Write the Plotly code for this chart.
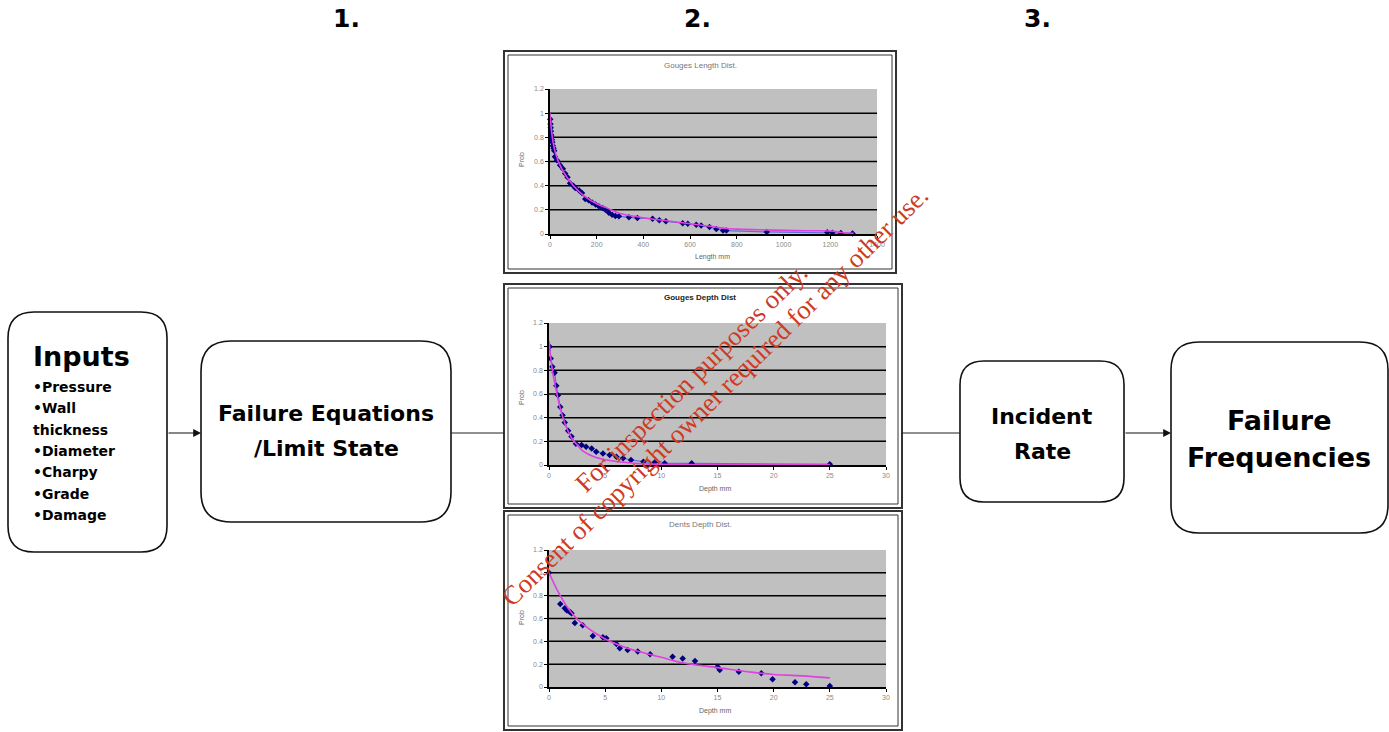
import plotly.graph_objects as go

W, H = 1389, 732

# ---------------- data ----------------
# Chart 1: Gouges Length Dist.
gl_len = [1, 2, 3, 4, 5, 6, 8, 10, 12, 15, 18, 21, 30, 43, 55, 65, 75, 86, 100, 108, 125, 137,
          151, 165, 180, 195, 209, 225, 237, 252, 266, 280, 295, 338, 374, 439, 468, 496, 568,
          590, 626, 647, 683, 712, 741, 755, 928, 1187, 1209, 1245, 1295]
gl_prob = [0.95, 0.91, 0.88, 0.85, 0.82, 0.80, 0.78, 0.76, 0.73, 0.71, 0.69, 0.64, 0.61, 0.57,
           0.54, 0.50, 0.47, 0.42, 0.40, 0.38, 0.36, 0.34, 0.29, 0.28, 0.26, 0.245, 0.23, 0.215,
           0.20, 0.175, 0.16, 0.15, 0.146, 0.138, 0.132, 0.127, 0.113, 0.105, 0.09, 0.085, 0.077,
           0.07, 0.058, 0.041, 0.03, 0.028, 0.017, 0.014, 0.011, 0.008, 0.005]
gl_fit_len = [0, 10, 25, 50, 100, 150, 200, 250, 300, 400, 500, 600, 700, 750, 800, 900, 1000,
              1100, 1200, 1250, 1300]
gl_fit_prob = [1.0, 0.80, 0.66, 0.54, 0.40, 0.31, 0.25, 0.21, 0.17, 0.135, 0.11, 0.085, 0.06,
               0.045, 0.04, 0.035, 0.03, 0.027, 0.025, 0.012, 0.005]

# Chart 2: Gouges Depth Dist
gd_depth = [0.06, 0.15, 0.3, 0.5, 0.65, 0.8, 1.0, 1.2, 1.4, 1.7, 2.0, 2.4, 2.9, 3.3, 3.8, 4.2,
            4.8, 5.4, 6.0, 6.6, 7.3, 8.4, 9.4, 10.3, 12.7, 25.0]
gd_prob = [1.0, 0.90, 0.83, 0.78, 0.67, 0.59, 0.49, 0.42, 0.36, 0.29, 0.24, 0.18, 0.17, 0.154,
           0.14, 0.112, 0.098, 0.084, 0.07, 0.056, 0.042, 0.028, 0.022, 0.014, 0.014, 0.006]
gd_fit_depth = [0, 0.3, 0.6, 1.0, 1.5, 2.0, 2.5, 3.0, 4.0, 5.0, 6.0, 7.0, 8.0, 10.0, 25.0]
gd_fit_prob = [1.05, 0.80, 0.65, 0.48, 0.33, 0.23, 0.17, 0.12, 0.07, 0.045, 0.03, 0.02, 0.012,
               0.005, 0.003]

# Chart 3: Dents Depth Dist.
dd_depth = [0.0, 1.0, 1.4, 1.6, 1.85, 2.0, 2.3, 3.0, 3.9, 4.8, 5.1, 6.0, 6.3, 7.0, 7.9, 9.0,
            11.0, 11.9, 13.0, 15.0, 15.2, 16.9, 18.9, 19.9, 21.9, 22.9, 25.0]
dd_prob = [1.0, 0.727, 0.69, 0.67, 0.66, 0.645, 0.56, 0.54, 0.447, 0.435, 0.426, 0.377, 0.34,
           0.324, 0.31, 0.286, 0.266, 0.25, 0.228, 0.178, 0.149, 0.134, 0.12, 0.067, 0.041,
           0.023, 0.009]
dd_fit_depth = [0, 1, 2, 3, 5, 7, 10, 12, 15, 18, 20, 22, 25]
dd_fit_prob = [1.0, 0.80, 0.65, 0.55, 0.42, 0.34, 0.26, 0.21, 0.17, 0.13, 0.11, 0.10, 0.08]

prob_ticks = [0, 0.2, 0.4, 0.6, 0.8, 1, 1.2]
prob_tick_text = ["0", "0.2", "0.4", "0.6", "0.8", "1", "1.2"]
grid_vals = [0.2, 0.4, 0.6, 0.8, 1.0]

chart_titles = ["Gouges Length Dist.", "Gouges Depth Dist", "Dents Depth Dist."]
x_titles = ["Length mm", "Depth mm", "Depth mm"]

input_items = ["\u2022Pressure", "\u2022Wall", "thickness", "\u2022Diameter", "\u2022Charpy",
               "\u2022Grade", "\u2022Damage"]

# ---------------- helpers ----------------
def px(x):
    return x / W

def py(y):
    return 1 - y / H

def rrect(x0, y0, x1, y1, r):
    def P(x, y):
        return f"{px(x):.5f},{py(y):.5f}"
    d = (f"M {P(x0 + r, y0)} L {P(x1 - r, y0)} Q {P(x1, y0)} {P(x1, y0 + r)} "
         f"L {P(x1, y1 - r)} Q {P(x1, y1)} {P(x1 - r, y1)} "
         f"L {P(x0 + r, y1)} Q {P(x0, y1)} {P(x0, y1 - r)} "
         f"L {P(x0, y0 + r)} Q {P(x0, y0)} {P(x0 + r, y0)} Z")
    return dict(type="path", path=d, xref="paper", yref="paper",
                line=dict(color="#111111", width=1.6), layer="below")

fig = go.Figure()

MARK = "#000080"
FIT = "#e040e0"
LINK = "#5a6ee0"

series = [
    (gl_len, gl_prob, gl_fit_len, gl_fit_prob, "x", "y", "lines+markers"),
    (gd_depth, gd_prob, gd_fit_depth, gd_fit_prob, "x2", "y2", "lines+markers"),
    (dd_depth, dd_prob, dd_fit_depth, dd_fit_prob, "x3", "y3", "markers"),
]
for xs, ys, fx, fy, xa, ya, mode in series:
    fig.add_trace(go.Scatter(x=xs, y=ys, mode=mode, xaxis=xa, yaxis=ya,
                             line=dict(color=LINK, width=1.2),
                             marker=dict(symbol="diamond", size=5, color=MARK),
                             showlegend=False, hoverinfo="skip", cliponaxis=False))
    fig.add_trace(go.Scatter(x=fx, y=fy, mode="lines", xaxis=xa, yaxis=ya,
                             line=dict(color=FIT, width=1.6, shape="spline"),
                             showlegend=False, hoverinfo="skip", cliponaxis=False))

# plot-area pixel boxes: (left, top, right, bottom)
areas = [(550, 89, 877, 234), (549, 323, 886, 465), (549, 550, 886, 687)]
x_ranges = [[0, 1400], [0, 30], [0, 30]]
x_dticks = [200, 5, 5]

axis_font = dict(family="Liberation Sans, Arial", size=7, color="#8a8a8a")
layout_axes = {}
shapes = []
for i, ((l, t, r, b), xr, dt) in enumerate(zip(areas, x_ranges, x_dticks)):
    sfx = "" if i == 0 else str(i + 1)
    layout_axes["xaxis" + sfx] = dict(
        domain=[px(l), px(r)], range=xr, dtick=dt, tick0=0, anchor="y" + sfx,
        showgrid=False, zeroline=False, showline=True, linecolor="black", linewidth=1.5,
        ticks="outside", ticklen=3, tickcolor="black", tickfont=axis_font, fixedrange=True,
        automargin=False, ticklabeloverflow="allow")
    layout_axes["yaxis" + sfx] = dict(
        domain=[py(b), py(t)], range=[0, 1.2], tickvals=prob_ticks, ticktext=prob_tick_text,
        anchor="x" + sfx, showgrid=False, zeroline=False,
        showline=True, linecolor="black", linewidth=1.5, ticks="outside", ticklen=3,
        tickcolor="black", tickfont=axis_font, fixedrange=True, automargin=False,
        ticklabeloverflow="allow")
    xd = ("x" + sfx) + " domain" if sfx else "x domain"
    for g in grid_vals:
        shapes.append(dict(type="line", xref=xd, yref="y" + sfx, x0=0, x1=1, y0=g, y1=g,
                           line=dict(color="black", width=1.5), layer="below"))

# chart frames (double border)
frames = [(504, 51, 896, 273), (504, 284, 902, 508), (504, 511, 902, 730)]
for (x0, y0, x1, y1) in frames:
    shapes.append(dict(type="rect", xref="paper", yref="paper", x0=px(x0), x1=px(x1),
                       y0=py(y1), y1=py(y0), line=dict(color="#333333", width=2),
                       layer="below"))
    shapes.append(dict(type="rect", xref="paper", yref="paper", x0=px(x0 + 4), x1=px(x1 - 4),
                       y0=py(y1 - 4), y1=py(y0 + 4), line=dict(color="#333333", width=1),
                       layer="below"))

# rounded boxes
shapes.append(rrect(8, 312, 167, 552, 26))
shapes.append(rrect(201, 341, 451, 522, 30))
shapes.append(rrect(960, 361, 1124, 502, 24))
shapes.append(rrect(1171, 342, 1388, 533, 28))

# connector lines without arrowheads
for (xa, xb, yy) in [(451, 504, 433), (902, 960, 433)]:
    shapes.append(dict(type="line", xref="paper", yref="paper", x0=px(xa), x1=px(xb),
                       y0=py(yy), y1=py(yy), line=dict(color="#222222", width=1.2)))

ann = []
# arrows
for (xa, xb, yy) in [(167, 201, 433), (1124, 1171, 433)]:
    ann.append(dict(x=px(xb), y=py(yy), xref="paper", yref="paper", ax=-(xb - xa), ay=0,
                    text="", showarrow=True, arrowhead=2, arrowsize=1.3, arrowwidth=1.2,
                    arrowcolor="#111111"))

BOLD = "DejaVu Sans, Verdana, sans-serif"

def text(x, y, s, size, anchor="center", color="#000000", family=BOLD, bold=True, angle=0):
    ann.append(dict(x=px(x), y=py(y), xref="paper", yref="paper",
                    text=(f"<b>{s}</b>" if bold else s), showarrow=False,
                    xanchor=anchor, yanchor="middle", textangle=angle,
                    font=dict(family=family, size=size, color=color)))

# step headings
for x, s in [(346, "1."), (697, "2."), (1037, "3.")]:
    text(x, 18, s, 25)

# inputs box
text(81, 357, "Inputs", 27)
for yy, item in zip([387, 408, 430, 451, 472, 494, 515], input_items):
    text(31, yy, item, 14, anchor="left")

text(326, 413, "Failure Equations", 22)
text(326, 449, "/Limit State", 22)
text(1042, 416, "Incident", 22)
text(1042, 451, "Rate", 22)
text(1279, 420, "Failure", 27)
text(1279, 457, "Frequencies", 27)

# mini-chart texts
small = "Liberation Sans, Arial, sans-serif"
for (tx, ty), t_, ctl in zip([(700, 66), (700, 297), (700, 524)], chart_titles,
                             ["#777777", "#222222", "#777777"]):
    text(tx, ty, t_, 8, color=ctl, family=small, bold=(ctl == "#222222"))
for (tx, ty), t_ in zip([(712, 257), (715, 489), (715, 711)], x_titles):
    text(tx, ty, t_, 7, color="#666666", family=small, bold=False)
for ty in [160, 398, 618]:
    text(521, ty, "Prob", 7, color="#666666", family=small, bold=False, angle=-90)

# watermark
WM = "#cf3a24"
SERIF = "Liberation Serif, Times New Roman, serif"
text(691, 378, "For inspection purposes only.", 26.6, color=WM, family=SERIF, bold=False,
     angle=-44.5)
text(715, 396, "Consent of copyright owner required for any other use.", 26.6, color=WM,
     family=SERIF, bold=False, angle=-44.5)

fig.update_layout(
    width=W, height=H, margin=dict(l=0, r=0, t=0, b=0, pad=0, autoexpand=False),
    paper_bgcolor="white", plot_bgcolor="#c0c0c0",
    shapes=shapes, annotations=ann, showlegend=False,
    **layout_axes,
)

fig.write_html("out.html", config={"displayModeBar": False},
               post_script="document.body.style.margin='0';document.body.style.overflow='hidden';")
